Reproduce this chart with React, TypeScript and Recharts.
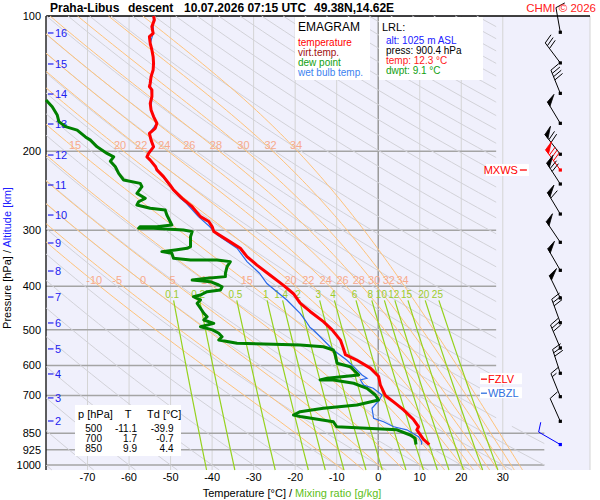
import React from "react";
import { ComposedChart, XAxis, YAxis, Scatter, ReferenceLine, CartesianGrid } from "recharts";

// ---------------- data ----------------
const pressureTicks = [100, 200, 300, 400, 500, 600, 700, 850, 925, 1000];
const tempTicks = [-70, -60, -50, -40, -30, -20, -10, 0, 10, 20, 30];

// [pressure hPa, temperature °C]
const temperature: [number, number][] = [
  [100, -54.1], [102, -53.9], [105.6, -54.5], [109.3, -54.2], [111.2, -55.1], [115.1, -54.9], [119, -54.5],
  [123.2, -54.2], [127.5, -54.1], [131.9, -54.2], [136.5, -54.7], [141.2, -54.9], [143.7, -55.1], [146.1, -54.5],
  [151.2, -54.5], [156.5, -54.9], [161.9, -54.7], [167.5, -54.1], [173.3, -53.3], [177.9, -53.7], [182.6, -55.1],
  [189, -54.7], [195.6, -54.1], [202.3, -55.3], [205.9, -55.7], [209.4, -54.9], [216.7, -53.6], [220.2, -53.3],
  [227.9, -51.7], [238, -50.1], [244, -49.3], [254.8, -47.2], [265.9, -44.8], [279.8, -42.8], [286.9, -40.8],
  [294.4, -40.0], [301.9, -39.6], [315.2, -36.4], [329, -33.2], [343.6, -31.6], [358.7, -29.2], [378, -26.0],
  [398, -22.8], [415.5, -20.4], [436, -18.8], [455, -16.4], [479.5, -13.2], [500, -11.1], [527, -9.1],
  [549.5, -8.4], [568, -7.9], [583, -5.3], [608.5, -1.9], [635, 0.1], [663, 0.5], [700, 1.7], [723.6, 3.7],
  [754, 6.1], [792, 8.5], [821.6, 9.7], [835, 9.3], [850, 9.9], [877, 10.9], [900.4, 12.3],
];

const dewPoint: [number, number][] = [
  [153.8, -80], [159.2, -78.5], [166.1, -77.3], [171.9, -76.9], [176.4, -75.3], [179.5, -72.5], [185.9, -70.5],
  [189, -69.3], [195.6, -67.7], [202.3, -65.3], [205.9, -63.7], [210.5, -64.5], [216.6, -63.3], [224.1, -62.5],
  [231.9, -61.3], [235.9, -57.3], [240, -56.9], [248.3, -58.1], [254.7, -56.1], [259.2, -57.7], [263.6, -58.1],
  [268.1, -54.9], [270.4, -51.3], [277.5, -50.9], [287.1, -50.1], [292.1, -49.7], [294.6, -53.3], [294.6, -57.3],
  [297, -57.7], [297, -54.1], [299.6, -46.9], [302.2, -44.8], [310.1, -45.2], [326.4, -45.2], [329.1, -46.0],
  [331.9, -48.9], [334.8, -52.1], [337.6, -49.7], [346.3, -49.3], [349.4, -45.2], [349.4, -38.8], [352.4, -35.6],
  [361.6, -36.4], [374.1, -36.8], [380.6, -36.8], [383.8, -41.2], [387.3, -44.8], [390.6, -40.4], [397.3, -38.4],
  [400.8, -37.6], [407.6, -38.0], [411.2, -41.2], [418.2, -42.8], [421.8, -44.5], [429, -42.8], [436.4, -43.6],
  [447.7, -42.8], [459.3, -42.0], [467.5, -41.2], [475.5, -42.0], [483.6, -39.6], [492, -42.8], [500, -39.9],
  [509, -38.4], [518, -37.6], [526.8, -38.4], [535.8, -34.0], [538.6, -25.2], [540.4, -18.8], [545.2, -13.2],
  [554.5, -10.8], [565, -10.4], [593.6, -9.9], [604, -6.7], [624.8, -5.1], [630.3, -4.7], [641, -12.3],
  [646.6, -14.0], [646.6, -10.8], [657.6, -5.9], [674.8, -2.7], [698.4, -0.7], [716.5, 0.1], [735.2, -5.1],
  [747.7, -13.2], [760.9, -18.8], [773.9, -20.4], [780, -18.8], [801, -10.8], [821.8, -10.0], [828.6, -2.8],
  [835, 4.5], [857.5, 7.7], [872, 8.9], [900.4, 9.1],
];

const wetBulb: [number, number][] = [
  [100, -54.1], [109.3, -54.2], [115.1, -54.9], [123.2, -54.2], [131.9, -54.2], [141.2, -54.9], [151.2, -54.5],
  [161.9, -54.7], [173.3, -53.3], [182.6, -55.1], [195.6, -54.1], [205.9, -55.7], [216.7, -53.6], [227.9, -51.9],
  [238, -50.4], [254.8, -47.6], [261.3, -46.2], [279.8, -43.3], [294.4, -40.6], [307.1, -38.8], [329, -34.0],
  [352.4, -31.6], [374, -28.6], [394.4, -26.8], [429, -22.0], [459.3, -18.8], [475.5, -17.6], [494, -16.4],
  [500.5, -15.6], [526.8, -13.2], [554.5, -10.8], [583.5, -7.6], [604, -5.9], [619.5, -4.7], [630.3, -3.9],
  [641, -2.7], [646.6, -4.3], [664, -3.5], [674.8, -1.2], [698.4, 0.9], [716.5, 0.3], [747.7, -1.5],
  [787, -1.1], [801, 1.3], [821.8, 3.7], [835, 6.9], [865, 9.7], [888, 10.5], [900.4, 10.4],
];

const altitudeKm = [16, 15, 14, 13, 12, 11, 10, 9, 8, 7, 6, 5, 4, 3, 2];
const altitudeP = [109.1, 127.9, 149.2, 174.0, 204.0, 237.9, 277.5, 320.3, 369.8, 422.6, 482.7, 551.4, 627.0, 709.0, 798.0];

const windP = [108.7, 127.2, 148.7, 173.4, 203.2, 220.3, 236.7, 276.1, 319.2, 368.5, 424.6, 482.1, 548.8, 624.8, 704.5, 799.3, 900.4];
const windDir = [350, 323, 338, 329, 322, 324, 327, 329, 326, 330, 334, 340, 337, 342, 338, 336, 300];
const windSpd = [10, 30, 40, 50, 70, 80, 70, 60, 50, 50, 50, 30, 30, 30, 15, 10, 10];
const windColor = ["#000", "#000", "#000", "#000", "#000", "#f00", "#000", "#000", "#000", "#000", "#000", "#000", "#000", "#000", "#000", "#000", "#00f"];

const moistThetaW = [-10, -5, 0, 5, 10, 15, 20, 22, 24, 26, 28, 30, 32, 34];
const moistLabelsLow = [-10, -5, 0, 5, 10, 15, 20, 22, 24, 26, 28, 30, 32, 34];
const moistLabelsHigh = [15, 20, 22, 24, 26, 28, 30, 32, 34];
const mixingRatios = [0.1, 0.2, 0.5, 1, 1.4, 2, 3, 4, 6, 8, 10, 12, 15, 20, 25];
const dryThetaC = Array.from({ length: 40 }, (_, i) => -80 + 10 * i);

const levelMarks = [
  { name: "FZLV", p: 643.9, color: "#ff0000" },
  { name: "WBZL", p: 692, color: "#3070e0" },
];
const maxWindP = 220.3;

const legendItems = [
  { label: "temperature", color: "#ff0000" },
  { label: "virt.temp.", color: "#a01010" },
  { label: "dew point", color: "#10a010" },
  { label: "wet bulb temp.", color: "#3c82f0" },
];
const lrlItems = [
  { label: "alt: 1025 m ASL", color: "#2020ff" },
  { label: "press: 900.4 hPa", color: "#000000" },
  { label: "temp: 12.3 °C", color: "#ff2020" },
  { label: "dwpt: 9.1 °C", color: "#10a010" },
];
const tableRows = [
  ["500", "-11.1", "-39.9"],
  ["700", "1.7", "-0.7"],
  ["850", "9.9", "4.4"],
];

// ---------------- geometry / physics helpers ----------------
type Pt = { t: number; p: number };
const T_MIN = -80, T_MAX = 51, P_TOP = 100, P_BOT = 1026;
const FONT = "'Liberation Sans', Arial, Helvetica, sans-serif";
const BARB_T = 43.85;
const MARK_T = 24.5;
const MXWS_T = 35.8;
const MIX_NUDGE: Record<string, number> = { "10": -1.5, "12": 0.3 };

const tRight = (p: number) => (p >= 820 ? 40 : 28.4);
const inside = (t: number, p: number) =>
  t >= T_MIN - 1e-9 && t <= tRight(p) + 1e-9 && p >= P_TOP - 1e-9 && p <= P_BOT + 1e-9;

function clipPolyline(pts: Pt[]): Pt[][] {
  const segs: Pt[][] = [];
  let cur: Pt[] = [];
  for (let i = 0; i < pts.length; i++) {
    const a = pts[i];
    const ina = inside(a.t, a.p);
    if (i > 0) {
      const b = pts[i - 1];
      const inb = inside(b.t, b.p);
      if (ina !== inb) {
        let lo = 0, hi = 1;
        for (let k = 0; k < 30; k++) {
          const m = (lo + hi) / 2;
          const t = b.t + (a.t - b.t) * m;
          const p = b.p + (a.p - b.p) * m;
          if (inside(t, p) === inb) lo = m;
          else hi = m;
        }
        const m = inb ? lo : hi;
        const c = { t: b.t + (a.t - b.t) * m, p: b.p + (a.p - b.p) * m };
        if (inb) {
          cur.push(c);
          segs.push(cur);
          cur = [];
        } else {
          cur = [c];
        }
      }
    }
    if (ina) cur.push(a);
  }
  if (cur.length > 1) segs.push(cur);
  return segs.filter((s) => s.length > 1);
}

const logSamples = (p0: number, p1: number, n: number) =>
  Array.from({ length: n + 1 }, (_, i) => p0 * Math.pow(p1 / p0, i / n));

const dryT = (thetaC: number, p: number) => (thetaC + 273.15) * Math.pow(p / 1000, 0.2857) - 273.15;

const RD = 287.04, CP = 1005.7, LV = 2.501e6, EPS = 0.622;
const satVap = (tc: number) => 6.112 * Math.exp((17.67 * tc) / (tc + 243.5));
function dTdlnp(T: number, lnp: number) {
  const p = Math.exp(lnp);
  const e = satVap(T - 273.15);
  const r = (EPS * e) / (p - e);
  return (RD * T + LV * r) / (CP + (LV * LV * r * EPS) / (RD * T * T));
}
function moistCurve(thetaW: number): Pt[] {
  const run = (pEnd: number, every: number) => {
    let T = thetaW + 273.15;
    let lnp = Math.log(1000);
    const lnEnd = Math.log(pEnd);
    const n = Math.max(1, Math.ceil(Math.abs(lnEnd - lnp) / 0.005));
    const h = (lnEnd - lnp) / n;
    const out: Pt[] = [{ t: thetaW, p: 1000 }];
    for (let i = 1; i <= n; i++) {
      const k1 = dTdlnp(T, lnp);
      const k2 = dTdlnp(T + (h * k1) / 2, lnp + h / 2);
      const k3 = dTdlnp(T + (h * k2) / 2, lnp + h / 2);
      const k4 = dTdlnp(T + h * k3, lnp + h);
      T += (h * (k1 + 2 * k2 + 2 * k3 + k4)) / 6;
      lnp += h;
      if (i % every === 0 || i === n) out.push({ t: T - 273.15, p: Math.exp(lnp) });
    }
    return out;
  };
  const up = run(P_TOP, 4).reverse();
  const down = run(P_BOT, 1).slice(1);
  return up.concat(down);
}
const tAt = (line: Pt[], p: number) => {
  for (let i = 1; i < line.length; i++) {
    const a = line[i - 1], b = line[i];
    if ((a.p - p) * (b.p - p) <= 0) {
      const m = (p - a.p) / (b.p - a.p || 1);
      return a.t + (b.t - a.t) * m;
    }
  }
  return line[0].t;
};
const mixT = (w: number, p: number) => {
  const e = (w * p) / (622 + w);
  const l = Math.log(e / 6.112);
  return (243.5 * l) / (17.67 - l);
};

// ---------------- derived tables ----------------
const toPts = (arr: [number, number][]) => arr.map(([p, t]) => ({ t, p }));

const drySegs = dryThetaC.flatMap((th) => clipPolyline(logSamples(P_TOP, P_BOT, 90).map((p) => ({ t: dryT(th, p), p }))));
const moistLines = moistThetaW.map((tw) => ({ tw, line: moistCurve(tw) }));
const moistSegs = moistLines.flatMap((m) => clipPolyline(m.line));
const mixSegs = mixingRatios.flatMap((w) => clipPolyline(logSamples(430, P_BOT, 14).map((p) => ({ t: mixT(w, p), p }))));

const moistLabelPts = [
  ...moistLabelsLow.map((tw) => ({ p: 387, t: tAt(moistLines.find((m) => m.tw === tw)!.line, 387) + 0.6, label: String(tw) })),
  ...moistLabelsHigh.map((tw) => ({ p: 194, t: tAt(moistLines.find((m) => m.tw === tw)!.line, 194) + 1.0, label: String(tw) })),
];
const mixLabelPts = mixingRatios.map((w) => ({ p: 416.5, t: mixT(w, 430) - 0.35, label: String(w) }));
const altitudePts = altitudeKm.map((km, i) => ({ t: T_MIN, p: altitudeP[i], label: String(km) }));
const windPts = windP.map((p, i) => ({ t: BARB_T, p, dir: windDir[i], spd: windSpd[i], color: windColor[i] }));
const markPts = levelMarks.map((m) => ({ t: MARK_T, p: m.p, label: m.name, color: m.color }));
const mxwsPts = [{ t: MXWS_T, p: maxWindP, label: "MXWS" }];

// ---------------- shapes ----------------
const NoShape = () => <g />;

const LabelShape = (color: string, size: number, nudge: Record<string, number> = {}) => (props: any) => (
  <text
    x={props.cx + (nudge[props.payload.label] || 0)}
    y={props.cy + 4}
    textAnchor="middle"
    fontSize={size}
    fontFamily={FONT}
    fill={color}
  >
    {props.payload.label}
  </text>
);

const AltShape = (props: any) => (
  <g>
    <line x1={props.cx + 2} y1={props.cy} x2={props.cx + 7.5} y2={props.cy} stroke="#2020f0" strokeWidth={1.2} />
    <text x={props.cx + 9} y={props.cy + 4} fontSize={11} fontFamily={FONT} fill="#2020f0">
      {props.payload.label}
    </text>
  </g>
);

const MarkShape = (props: any) => (
  <g>
    <rect x={props.cx} y={props.cy - 6} width={42} height={11} fill="#fff" />
    <line x1={props.cx + 1} y1={props.cy} x2={props.cx + 7} y2={props.cy} stroke={props.payload.color} strokeWidth={1.3} />
    <text x={props.cx + 8} y={props.cy + 4} fontSize={11} fontFamily={FONT} fill={props.payload.color}>
      {props.payload.label}
    </text>
  </g>
);

const MxwsShape = (props: any) => (
  <g>
    <rect x={props.cx - 41} y={props.cy - 6} width={43} height={12} fill="#fff" />
    <text x={props.cx - 9} y={props.cy + 4} textAnchor="end" fontSize={11} fontFamily={FONT} fill="#ff0000">
      {props.payload.label}
    </text>
    <line x1={props.cx - 7} y1={props.cy} x2={props.cx} y2={props.cy} stroke="#ff0000" strokeWidth={1.3} />
  </g>
);

const BarbShape = (props: any) => {
  const { cx, cy, payload } = props;
  const { dir, spd, color } = payload;
  const L = 25, F = 10, gap = 3.5;
  const a = (dir * Math.PI) / 180;
  const ux = Math.sin(a), uy = -Math.cos(a);
  const r = (72 * Math.PI) / 180;
  const fx = ux * Math.cos(r) - uy * Math.sin(r);
  const fy = ux * Math.sin(r) + uy * Math.cos(r);
  const tx = cx + L * ux, ty = cy + L * uy;
  const P = (d: number) => [tx - d * ux, ty - d * uy];
  const parts: React.ReactNode[] = [];
  let rem = Math.round(spd / 5) * 5;
  let d = 0;
  let k = 0;
  while (rem >= 50) {
    const [x1, y1] = P(d);
    const [x2, y2] = P(d + 5);
    parts.push(
      <polygon key={k++} points={`${x1},${y1} ${x2},${y2} ${x1 + F * fx},${y1 + F * fy}`} fill={color} stroke={color} strokeWidth={0.8} />
    );
    d += 6.5;
    rem -= 50;
  }
  while (rem >= 10) {
    const [x1, y1] = P(d);
    parts.push(<line key={k++} x1={x1} y1={y1} x2={x1 + F * fx} y2={y1 + F * fy} stroke={color} strokeWidth={1} />);
    d += gap;
    rem -= 10;
  }
  if (rem >= 5) {
    if (d === 0) d = gap;
    const [x1, y1] = P(d);
    parts.push(<line key={k++} x1={x1} y1={y1} x2={x1 + F * 0.55 * fx} y2={y1 + F * 0.55 * fy} stroke={color} strokeWidth={1} />);
  }
  return (
    <g>
      <line x1={cx} y1={cy} x2={tx} y2={ty} stroke={color} strokeWidth={1} />
      {parts}
      <rect x={cx - 1.6} y={cy - 1.6} width={3.2} height={3.2} fill={color} />
    </g>
  );
};

const XTick = (props: any) => (
  <text x={props.x} y={props.y + 11} textAnchor="middle" fontSize={11} fontFamily={FONT} fill="#000">
    {props.payload.value}
  </text>
);
const YTick = (props: any) => (
  <text x={props.x - 5} y={props.y + 4} textAnchor="end" fontSize={11} fontFamily={FONT} fill="#000">
    {props.payload.value}
  </text>
);

// ---------------- component ----------------
export default function App() {
  return (
    <div style={{ position: "absolute", left: 0, top: 0, width: 600, height: 500, background: "#fff" }}>
      <ComposedChart width={600} height={500} margin={{ top: 16, right: 10, bottom: 0, left: 6 }}>
        <CartesianGrid fill="#f0f0fc" horizontal={false} vertical={true} stroke="#d4d4d4" strokeDasharray="" />
        <XAxis
          type="number"
          dataKey="t"
          domain={[T_MIN, T_MAX]}
          ticks={tempTicks}
          axisLine={false}
          tickLine={false}
          tickSize={0}
          tickMargin={0}
          height={30}
          tick={XTick}
          interval={0}
        />
        <YAxis
          type="number"
          dataKey="p"
          scale="log"
          domain={[P_TOP, P_BOT]}
          reversed
          ticks={pressureTicks}
          axisLine={{ stroke: "#000", strokeWidth: 1.2 }}
          tickLine={false}
          tickSize={0}
          tickMargin={0}
          width={40}
          tick={YTick}
          interval={0}
        />
        {drySegs.map((s, i) => (
          <Scatter key={"d" + i} data={s} line={{ stroke: "#d2d2d8", strokeWidth: 1 }} shape={NoShape} isAnimationActive={false} />
        ))}
        {moistSegs.map((s, i) => (
          <Scatter key={"m" + i} data={s} line={{ stroke: "#ffc37a", strokeWidth: 1 }} shape={NoShape} isAnimationActive={false} />
        ))}
        {mixSegs.map((s, i) => (
          <Scatter key={"w" + i} data={s} line={{ stroke: "#96d21e", strokeWidth: 1.2 }} shape={NoShape} isAnimationActive={false} />
        ))}
        <ReferenceLine x={0} stroke="#8c8c8c" strokeWidth={1.2} />
        {pressureTicks.slice(1).map((p) => (
          <ReferenceLine
            key={"iso" + p}
            segment={[{ x: T_MIN, y: p }, { x: p >= 820 ? 40 : 28.4, y: p }]}
            stroke="#a4a4a4"
            strokeWidth={1.5}
          />
        ))}
        <ReferenceLine y={P_TOP} stroke="#000" strokeWidth={1.5} />
        <Scatter data={moistLabelPts} shape={LabelShape("#f7aa8c", 11)} isAnimationActive={false} />
        <Scatter data={mixLabelPts} shape={LabelShape("#9ccc2c", 10, MIX_NUDGE)} isAnimationActive={false} />
        <Scatter data={altitudePts} shape={AltShape} isAnimationActive={false} />
        <Scatter data={toPts(wetBulb)} line={{ stroke: "#2a68e8", strokeWidth: 1.2 }} shape={NoShape} isAnimationActive={false} />
        <Scatter data={toPts(dewPoint)} line={{ stroke: "#008000", strokeWidth: 3, strokeLinejoin: "round" }} shape={NoShape} isAnimationActive={false} />
        <Scatter data={toPts(temperature)} line={{ stroke: "#ff0000", strokeWidth: 3, strokeLinejoin: "round" }} shape={NoShape} isAnimationActive={false} />
        <Scatter data={markPts} shape={MarkShape} isAnimationActive={false} />
        <Scatter data={mxwsPts} shape={MxwsShape} isAnimationActive={false} />
        <Scatter data={windPts} shape={BarbShape} isAnimationActive={false} />
      </ComposedChart>

      <svg width={600} height={500} style={{ position: "absolute", left: 0, top: 0, pointerEvents: "none" }} fontFamily={FONT}>
        {/* title */}
        <g fontWeight="bold" fontSize={12} fill="#000">
          <text x={50} y={12}>Praha-Libus</text>
          <text x={128} y={12}>descent</text>
          <text x={184} y={12}>10.07.2026 07:15 UTC</text>
          <text x={314} y={12}>49.38N,14.62E</text>
        </g>
        <text x={596} y={12} textAnchor="end" fontSize={11.5} fill="#ff2020">CHMI © 2026</text>

        {/* legend box */}
        <rect x={295} y={17} width={75} height={63} fill="#fff" />
        <text x={298} y={31} fontSize={12} fill="#000">EMAGRAM</text>
        {legendItems.map((it, i) => (
          <text key={it.label} x={298} y={45.5 + i * 10} fontSize={10} fill={it.color}>{it.label}</text>
        ))}

        {/* LRL box */}
        <rect x={379} y={17} width={104} height={63} fill="#fff" />
        <text x={382} y={31} fontSize={11} fill="#000">LRL:</text>
        {lrlItems.map((it, i) => (
          <text key={it.label} x={386} y={43.5 + i * 10.2} fontSize={10} fill={it.color}>{it.label}</text>
        ))}

        {/* table */}
        <rect x={75} y={405} width={106} height={51} fill="#fff" />
        <text x={78} y={417.5} fontSize={11} fill="#000">p [hPa]</text>
        <text x={128} y={417.5} fontSize={11} textAnchor="middle" fill="#000">T</text>
        <text x={147} y={417.5} fontSize={11} fill="#000">Td [°C]</text>
        {tableRows.map((r, i) => (
          <g key={i} fontSize={10} fill="#000">
            <text x={102} y={432 + i * 10} textAnchor="end">{r[0]}</text>
            <text x={137} y={432 + i * 10} textAnchor="end">{r[1]}</text>
            <text x={173.5} y={432 + i * 10} textAnchor="end">{r[2]}</text>
          </g>
        ))}

        {/* axis titles */}
        <text x={292} y={497} textAnchor="middle" fontSize={11}>
          <tspan fill="#000">Temperature [°C]  /  </tspan>
          <tspan fill="#60c020">Mixing ratio [g/kg]</tspan>
        </text>
        <text x={11} y={258} textAnchor="middle" fontSize={11} transform="rotate(-90, 11, 258)">
          <tspan fill="#000">Pressure [hPa]  /  </tspan>
          <tspan fill="#2020ff">Altitude [km]</tspan>
        </text>
      </svg>
    </div>
  );
}
